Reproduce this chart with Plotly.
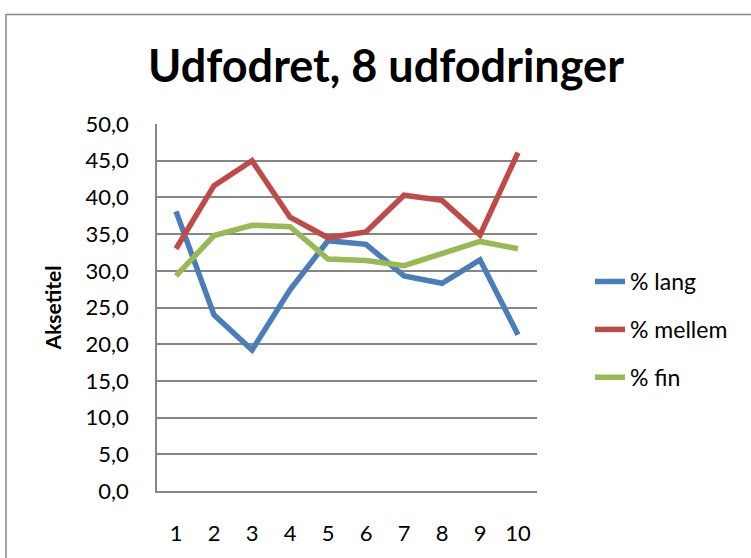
import plotly.graph_objects as go

categories = [1, 2, 3, 4, 5, 6, 7, 8, 9, 10]
lang = [38.1, 24.0, 19.2, 27.4, 34.1, 33.6, 29.3, 28.3, 31.5, 21.3]
mellem = [33.0, 41.6, 45.0, 37.3, 34.5, 35.3, 40.3, 39.6, 34.9, 46.1]
fin = [29.3, 34.8, 36.2, 36.0, 31.6, 31.4, 30.7, 32.4, 34.0, 33.0]
series_names = ["% lang", "% mellem", "% fin"]
colors = ["#4A7EBB", "#BE4B48", "#98B954"]
y_ticks = [0, 5, 10, 15, 20, 25, 30, 35, 40, 45, 50]

FONT = "Lato"
fig = go.Figure()
for i, (name, vals) in enumerate(zip(series_names, [lang, mellem, fin])):
    fig.add_trace(go.Scatter(
        x=[str(c) for c in categories], y=vals, mode="lines", name=name,
        line=dict(color=colors[i], width=5.5), legendgroup=name,
    ))

W, H = 751, 558
L, R, T, B = 157, 537, 124, 499

def px_x(px):
    return (px - L) / (R - L)

def px_y(py):
    return (B - py) / (B - T)

fig.update_layout(
    width=W, height=H,
    margin=dict(l=L, r=W - R, t=T, b=H - B, pad=0),
    paper_bgcolor="white", plot_bgcolor="white",
    separators=",.",
    font=dict(family=FONT, color="#000000", size=22),
    title=dict(text="<b>Udfodret, 8 udfodringer</b>", x=386 / W, xanchor="center",
               y=1 - 66 / H, yanchor="middle", font=dict(size=45, family=FONT)),
    showlegend=True,
    legend=dict(x=px_x(590), y=px_y(263), xanchor="left", yanchor="top",
                font=dict(size=23, family=FONT), tracegroupgap=15,
                traceorder="grouped", bgcolor="rgba(0,0,0,0)"),
    xaxis=dict(type="category", range=[-0.5, 9.5], showgrid=False, showline=True,
               linecolor="#868686", linewidth=1.5, ticks="", ticklabelstandoff=22,
               tickfont=dict(size=22)),
    yaxis=dict(range=[0, 50], tickvals=y_ticks, tickformat=".1f", showgrid=True,
               gridcolor="#868686", gridwidth=1.5, showline=True, linecolor="#868686",
               linewidth=1.5, ticks="", ticklabelstandoff=22, zeroline=False,
               tickfont=dict(size=22),
               title=dict(text="<b>Aksetitel</b>", standoff=18, font=dict(size=21))),
    shapes=[dict(type="rect", xref="paper", yref="paper",
                 x0=px_x(6), x1=px_x(770), y0=px_y(580), y1=px_y(12),
                 line=dict(color="#868686", width=1.5), fillcolor="rgba(0,0,0,0)",
                 layer="below")],
)

fig.write_html("out.html", config={"displayModeBar": False},
               post_script="document.body.style.margin='0px';")
